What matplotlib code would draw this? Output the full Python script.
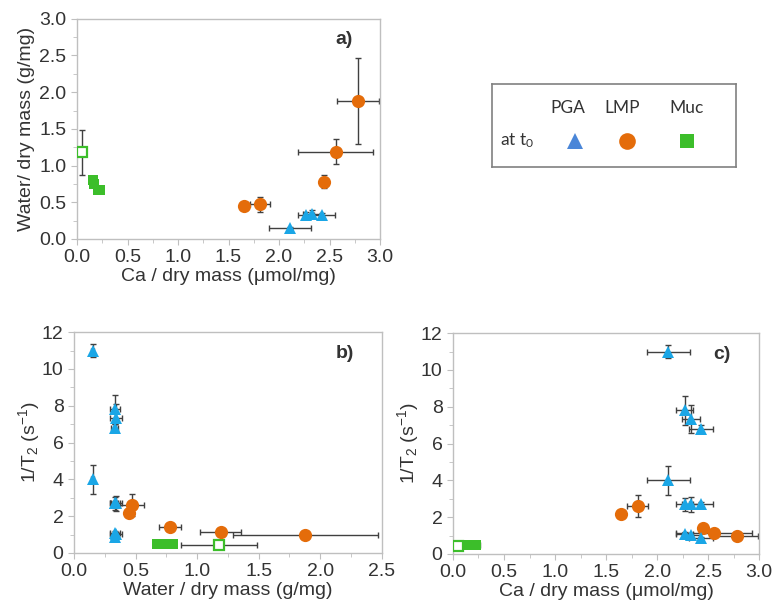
import numpy as np
import matplotlib
matplotlib.use('agg')
import matplotlib.pyplot as plt

plt.rcParams['font.family'] = ['Liberation Sans', 'DejaVu Sans']
plt.rcParams['mathtext.fontset'] = 'custom'
plt.rcParams['mathtext.rm'] = 'Liberation Sans'
plt.rcParams['mathtext.it'] = 'Liberation Sans'

# PGA (4 samples)
pga_ca = [2.11, 2.27, 2.33, 2.43]
pga_ca_err = [0.21, 0.08, 0.09, 0.12]
pga_water = [0.15, 0.33, 0.34, 0.33]
pga_water_err = [0.01, 0.04, 0.05, 0.03]
# 1/T2 components (sample 1 has only two)
pga_r_high = [11.0, 7.8, 7.35, 6.8]
pga_r_high_err = [0.35, 0.8, 0.75, 0.2]
pga_r_mid = [4.0, 2.7, 2.7, 2.7]
pga_r_mid_err = [0.8, 0.35, 0.4, 0.15]
pga_r_low = [np.nan, 1.1, 1.05, 0.85]
pga_r_low_err = [0.0, 0.1, 0.1, 0.1]

# LMP
lmp_ca = [1.65, 1.81, 2.45, 2.56, 2.78]
lmp_ca_err = [0.0, 0.10, 0.02, 0.37, 0.21]
lmp_water = [0.45, 0.47, 0.78, 1.19, 1.88]
lmp_water_err = [0.01, 0.10, 0.09, 0.17, 0.59]
lmp_r = [2.15, 2.6, 1.4, 1.12, 1.0]
lmp_r_err = [0.05, 0.6, 0.05, 0.05, 0.05]

# Muc filled
muc_ca = [0.16, 0.17, 0.21, 0.23]
muc_ca_err = [0.01, 0.01, 0.02, 0.03]
muc_water = [0.80, 0.75, 0.67, 0.67]
muc_water_err = [0.02, 0.02, 0.02, 0.02]
muc_r = [0.5, 0.5, 0.5, 0.5]
muc_r_err = [0.03, 0.03, 0.03, 0.03]
# Muc open
muc0_ca = [0.05]
muc0_ca_err = [0.02]
muc0_water = [1.18]
muc0_water_err = [0.31]
muc0_r = [0.45]
muc0_r_err = [0.05]

c_pga = '#1aa6e6'
c_lmp = '#e46c0a'
c_muc = '#3cbe2a'
c_err = '#404040'
c_spine = '#bfbfbf'
c_text = '#333333'
fs = 14

fig = plt.figure(figsize=(7.81, 6.05), dpi=100)
ax_a = fig.add_axes([0.0986, 0.605, 0.388, 0.364])
ax_b = fig.add_axes([0.0948, 0.086, 0.394, 0.365])
ax_c = fig.add_axes([0.580, 0.0843, 0.392, 0.365])

eb = dict(ecolor=c_err, elinewidth=1.0, capsize=2, capthick=1.0, linestyle='none')


def pts(ax, x, y, xe, ye, marker, color, ms, face=None):
    ax.errorbar(x, y, xerr=xe, yerr=ye, fmt='none', zorder=2, **eb)
    ax.plot(x, y, linestyle='none', marker=marker, ms=ms, color=color,
            mfc=face if face else color, mec=color, mew=1.6 if face else 0, zorder=3)


def style(ax, xlim, ylim, xmaj, xmin_, ymaj, ymin_, label):
    ax.set_xlim(xlim)
    ax.set_ylim(ylim)
    ax.set_xticks(np.arange(xlim[0], xlim[1] + 1e-9, xmaj))
    ax.set_xticks(np.arange(xlim[0], xlim[1] + 1e-9, xmin_), minor=True)
    ax.set_yticks(np.arange(ylim[0], ylim[1] + 1e-9, ymaj))
    ax.set_yticks(np.arange(ylim[0], ylim[1] + 1e-9, ymin_), minor=True)
    for s in ax.spines.values():
        s.set_color(c_spine)
        s.set_linewidth(1.0)
    ax.tick_params(which='both', direction='out', color=c_spine, labelsize=fs,
                   labelcolor=c_text)
    ax.tick_params(which='major', length=4)
    ax.tick_params(which='minor', length=3)
    ax.text(0.88, 0.905, label, transform=ax.transAxes, fontsize=fs,
            fontweight='bold', ha='center', va='center', color=c_text)


# a) Ca vs water
pts(ax_a, muc0_ca, muc0_water, muc0_ca_err, muc0_water_err, 's', c_muc, 7.5, face='white')
pts(ax_a, muc_ca, muc_water, muc_ca_err, muc_water_err, 's', c_muc, 7.5)
pts(ax_a, lmp_ca, lmp_water, lmp_ca_err, lmp_water_err, 'o', c_lmp, 9.5)
pts(ax_a, pga_ca, pga_water, pga_ca_err, pga_water_err, '^', c_pga, 8.5)
style(ax_a, (0, 3), (0, 3), 0.5, 0.25, 0.5, 0.25, 'a)')
ax_a.xaxis.set_major_formatter(matplotlib.ticker.FormatStrFormatter('%.1f'))
ax_a.yaxis.set_major_formatter(matplotlib.ticker.FormatStrFormatter('%.1f'))
ax_a.set_xlabel('Ca / dry mass (μmol/mg)', fontsize=fs, color=c_text, labelpad=1)
ax_a.set_ylabel('Water/ dry mass (g/mg)', fontsize=fs, color=c_text, labelpad=3)

# b) water vs 1/T2
pts(ax_b, muc0_water, muc0_r, muc0_water_err, muc0_r_err, 's', c_muc, 7.5, face='white')
pts(ax_b, muc_water, muc_r, muc_water_err, muc_r_err, 's', c_muc, 7.5)
pts(ax_b, lmp_water, lmp_r, lmp_water_err, lmp_r_err, 'o', c_lmp, 9.5)
for r, re in [(pga_r_high, pga_r_high_err), (pga_r_mid, pga_r_mid_err), (pga_r_low, pga_r_low_err)]:
    pts(ax_b, pga_water, r, pga_water_err, re, '^', c_pga, 8.5)
style(ax_b, (0, 2.5), (0, 12), 0.5, 0.25, 2, 1, 'b)')
ax_b.xaxis.set_major_formatter(matplotlib.ticker.FormatStrFormatter('%.1f'))
ax_b.set_xlabel('Water / dry mass (g/mg)', fontsize=fs, color=c_text, labelpad=1)
ax_b.set_ylabel(r'1/T$_\mathregular{2}$ (s$^\mathregular{-1}$)', fontsize=fs, color=c_text, labelpad=0)

# c) Ca vs 1/T2
pts(ax_c, muc0_ca, muc0_r, muc0_ca_err, muc0_r_err, 's', c_muc, 7.5, face='white')
pts(ax_c, muc_ca, muc_r, muc_ca_err, muc_r_err, 's', c_muc, 7.5)
pts(ax_c, lmp_ca, lmp_r, lmp_ca_err, lmp_r_err, 'o', c_lmp, 9.5)
for r, re in [(pga_r_high, pga_r_high_err), (pga_r_mid, pga_r_mid_err), (pga_r_low, pga_r_low_err)]:
    pts(ax_c, pga_ca, r, pga_ca_err, re, '^', c_pga, 8.5)
style(ax_c, (0, 3), (0, 12), 0.5, 0.25, 2, 1, 'c)')
ax_c.xaxis.set_major_formatter(matplotlib.ticker.FormatStrFormatter('%.1f'))
ax_c.set_xlabel('Ca / dry mass (μmol/mg)', fontsize=fs, color=c_text, labelpad=1)
ax_c.set_ylabel(r'1/T$_\mathregular{2}$ (s$^\mathregular{-1}$)', fontsize=fs, color=c_text, labelpad=0)

# legend box
lg = fig.add_axes([0.630, 0.724, 0.312, 0.137])
lg.set_xlim(0, 1)
lg.set_ylim(0, 1)
lg.set_xticks([])
lg.set_yticks([])
for s in lg.spines.values():
    s.set_color('#808080')
    s.set_linewidth(1.2)
lf = ['Lato', 'DejaVu Sans']
for name, xc in [('PGA', 0.31), ('LMP', 0.535), ('Muc', 0.80)]:
    lg.text(xc, 0.71, name, family=lf, fontsize=12.5, ha='center', va='center', color=c_text)
lg.text(0.105, 0.32, r'at t$_\mathregular{0}$', family=lf, fontsize=12.5, ha='center',
        va='center', color=c_text)
lg.plot([0.34], [0.31], '^', ms=11, color='#4a86d8', mew=0)
lg.plot([0.555], [0.31], 'o', ms=12, color=c_lmp, mew=0)
lg.plot([0.80], [0.31], 's', ms=10, color=c_muc, mew=0)

fig.savefig('out.png', dpi=100)
